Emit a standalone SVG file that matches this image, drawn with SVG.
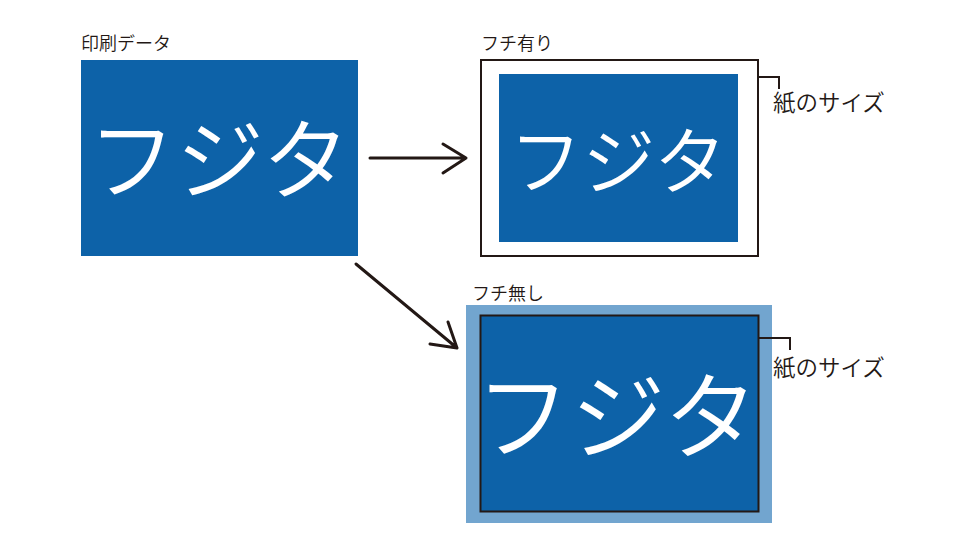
<svg xmlns="http://www.w3.org/2000/svg" width="960" height="560" viewBox="0 0 960 560">
<defs>
<style>
.lbl{font-family:"Noto Sans CJK JP","Noto Sans",sans-serif;font-size:18px;font-weight:350;fill:#231815;}
.big{font-family:"Noto Sans CJK JP","Noto Sans",sans-serif;font-weight:350;fill:#ffffff;text-anchor:middle;}
.blue{fill:#0d62a8;}
.ln{fill:none;stroke:#231815;stroke-width:3;stroke-linecap:round;stroke-linejoin:round;}
.br{fill:none;stroke:#231815;stroke-width:2;}
</style>
</defs>
<rect width="960" height="560" fill="#ffffff"/>
<g id="print-data">
<text class="lbl" x="81" y="50">印刷データ</text>
<rect class="blue" x="81" y="60" width="277" height="196"/>
<text class="big" x="219" y="192" font-size="88">フジタ</text>
</g>
<g id="with-border">
<text class="lbl" x="481" y="50">フチ有り</text>
<rect x="481" y="60" width="277" height="196" fill="#ffffff" stroke="#231815" stroke-width="2"/>
<rect class="blue" x="499" y="74" width="239" height="168"/>
<text class="big" x="618" y="188" font-size="73">フジタ</text>
<path class="br" d="M758 77 H779 V89"/>
<text class="lbl" x="773" y="111" style="font-size:22.5px">紙のサイズ</text>
</g>
<g id="borderless">
<text class="lbl" x="472" y="300">フチ無し</text>
<rect x="466" y="305" width="306" height="218" fill="#72a5cf"/>
<rect class="blue" x="480.5" y="315.5" width="278" height="196" stroke="#231815" stroke-width="2"/>
<text class="big" x="617" y="452" font-size="95">フジタ</text>
<path class="br" d="M759 338 H790 V350"/>
<text class="lbl" x="773" y="376" style="font-size:22.5px">紙のサイズ</text>
</g>
<g id="connectors">
<path class="ln" d="M370 158 H466 M443 144 L466 158 L443 173"/>
<path class="ln" d="M356 264 L457 348 M448 322 L457 348 L430 344"/>
</g>
</svg>
